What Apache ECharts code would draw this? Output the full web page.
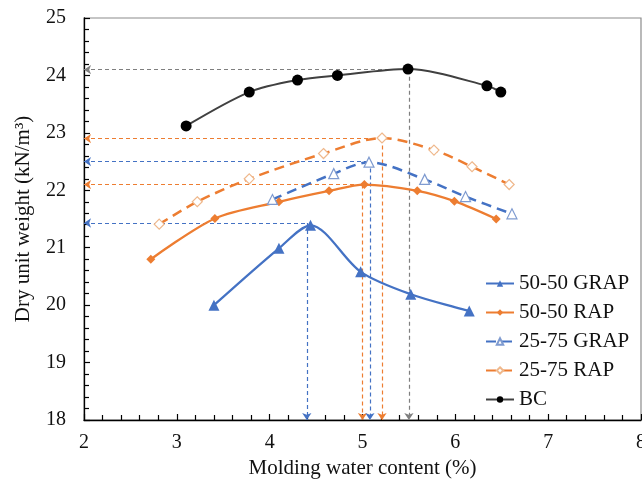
<!DOCTYPE html>
<html>
<head>
<meta charset="utf-8">
<script src="https://cdn.jsdelivr.net/npm/echarts@6/dist/echarts.min.js"></script>
<style>
html, body { margin: 0; padding: 0; background: #fff; }
#main { width: 642px; height: 483px; }
</style>
</head>
<body>
<div id="main"></div>
<script>
// 数据
var seriesNames = ['50-50 GRAP', '50-50 RAP', '25-75 GRAP', '25-75 RAP', 'BC'];

var grap5050X = [3.40, 4.10, 4.44, 4.98, 5.52, 6.15];
var grap5050Y = [20.00, 20.99, 21.39, 20.58, 20.19, 19.90];
var rap5050X  = [2.72, 3.41, 4.10, 4.64, 5.02, 5.59, 5.99, 6.44];
var rap5050Y  = [20.80, 21.51, 21.80, 21.99, 22.10, 21.99, 21.81, 21.50];
var grap2575X = [4.03, 4.69, 5.07, 5.67, 6.11, 6.61];
var grap2575Y = [21.84, 22.29, 22.49, 22.19, 21.89, 21.59];
var rap2575X  = [2.81, 3.22, 3.78, 4.58, 5.21, 5.77, 6.18, 6.58];
var rap2575Y  = [21.41, 21.80, 22.20, 22.64, 22.91, 22.70, 22.41, 22.10];
var bcX       = [3.10, 3.78, 4.30, 4.73, 5.49, 6.34, 6.49];
var bcY       = [23.12, 23.71, 23.92, 24.00, 24.11, 23.82, 23.71];

// 最优含水率 / 最大干密度 (参考线)
var optX = [4.40, 5.00, 5.08, 5.21, 5.50];
var optY = [21.43, 22.10, 22.50, 22.90, 24.10];

var xMin = 2, xMax = 8, yMin = 18, yMax = 25;

var BLUE = '#4472C4', ORANGE = '#ED7D31', GRAY = '#7F7F7F';
var FONT = '"Liberation Serif", "Times New Roman", serif';

function pairs(xs, ys) {
    var out = [];
    for (var i = 0; i < xs.length; i++) out.push([xs[i], ys[i]]);
    return out;
}

function refLines(i, color) {
    return {
        silent: true,
        animation: false,
        symbolSize: [7, 7],
        label: { show: false },
        lineStyle: { color: color, width: 1.2, type: [4, 3] },
        emphasis: { disabled: true },
        data: [
            [{ coord: [xMin, optY[i]], symbol: 'arrow' }, { coord: [optX[i], optY[i]], symbol: 'none' }],
            [{ coord: [optX[i], optY[i]], symbol: 'none' }, { coord: [optX[i], yMin], symbol: 'arrow' }]
        ]
    };
}

var dom   = document.getElementById('main');
var chart = echarts.init(dom, null, { renderer: 'canvas' });

var option = {
    animation: false,
    textStyle: { fontFamily: FONT },
    grid: {
        left: 84, top: 18, right: 1, bottom: 63,
        outerBoundsMode: 'none',
        containLabel: false,
        show: true, borderColor: '#8c8c8c', borderWidth: 1.2
    },
    legend: {
        orient: 'vertical',
        left: 480, top: 268,
        itemWidth: 28, itemHeight: 8, itemGap: 8,
        textStyle: { fontFamily: FONT, fontSize: 21, color: '#111', lineHeight: 21 },
        data: seriesNames
    },
    xAxis: {
        type: 'value', min: xMin, max: xMax, interval: 1,
        name: 'Molding water content (%)', nameLocation: 'middle', nameGap: 36,
        nameTextStyle: { fontFamily: FONT, fontSize: 21, color: '#111' },
        axisLine: { show: true, onZero: false, lineStyle: { color: '#000', width: 1.3 } },
        axisTick: { show: true, inside: true, length: 6, lineStyle: { color: '#000', width: 1.2 } },
        minorTick: { show: true, splitNumber: 5, length: 5, lineStyle: { color: '#000', width: 1.2 } },
        axisLabel: { fontFamily: FONT, fontSize: 20, color: '#111', margin: 13 },
        splitLine: { show: false }
    },
    yAxis: {
        type: 'value', min: yMin, max: yMax, interval: 1,
        name: 'Dry unit weight (kN/m³)', nameLocation: 'middle', nameGap: 50,
        nameTextStyle: { fontFamily: FONT, fontSize: 21, color: '#111' },
        axisLine: { show: true, onZero: false, lineStyle: { color: '#000', width: 1.3 } },
        axisTick: { show: true, inside: true, length: 6, lineStyle: { color: '#000', width: 1.2 } },
        minorTick: { show: true, splitNumber: 5, length: 5, lineStyle: { color: '#000', width: 1.2 } },
        axisLabel: { fontFamily: FONT, fontSize: 20, color: '#111', margin: 18 },
        splitLine: { show: false }
    },
    series: [
        {
            name: '50-50 GRAP', type: 'line', smooth: 0.3,
            data: pairs(grap5050X, grap5050Y),
            symbol: 'triangle', symbolSize: 11,
            itemStyle: { color: BLUE },
            lineStyle: { color: BLUE, width: 2.3 },
            markLine: refLines(0, BLUE),
            z: 5
        },
        {
            name: '50-50 RAP', type: 'line', smooth: 0.3,
            data: pairs(rap5050X, rap5050Y),
            symbol: 'diamond', symbolSize: 9,
            itemStyle: { color: ORANGE },
            lineStyle: { color: ORANGE, width: 2.3 },
            markLine: refLines(1, ORANGE),
            z: 5
        },
        {
            name: '25-75 GRAP', type: 'line', smooth: 0.3,
            data: pairs(grap2575X, grap2575Y),
            symbol: 'triangle', symbolSize: 10,
            itemStyle: { color: '#fff', borderColor: '#7f9bd0', borderWidth: 1.2 },
            lineStyle: { color: BLUE, width: 2.5, type: [10, 6] },
            markLine: refLines(2, BLUE),
            z: 5
        },
        {
            name: '25-75 RAP', type: 'line', smooth: 0.3,
            data: pairs(rap2575X, rap2575Y),
            symbol: 'diamond', symbolSize: 10,
            itemStyle: { color: '#fff', borderColor: '#efb88c', borderWidth: 1.2 },
            lineStyle: { color: ORANGE, width: 2.5, type: [10, 6] },
            markLine: refLines(3, ORANGE),
            z: 5
        },
        {
            name: 'BC', type: 'line', smooth: 0.3,
            data: pairs(bcX, bcY),
            symbol: 'circle', symbolSize: 11,
            itemStyle: { color: '#000' },
            lineStyle: { color: '#404040', width: 2 },
            markLine: refLines(4, GRAY),
            z: 5
        }
    ]
};

chart.setOption(option, true);
</script>
</body>
</html>
